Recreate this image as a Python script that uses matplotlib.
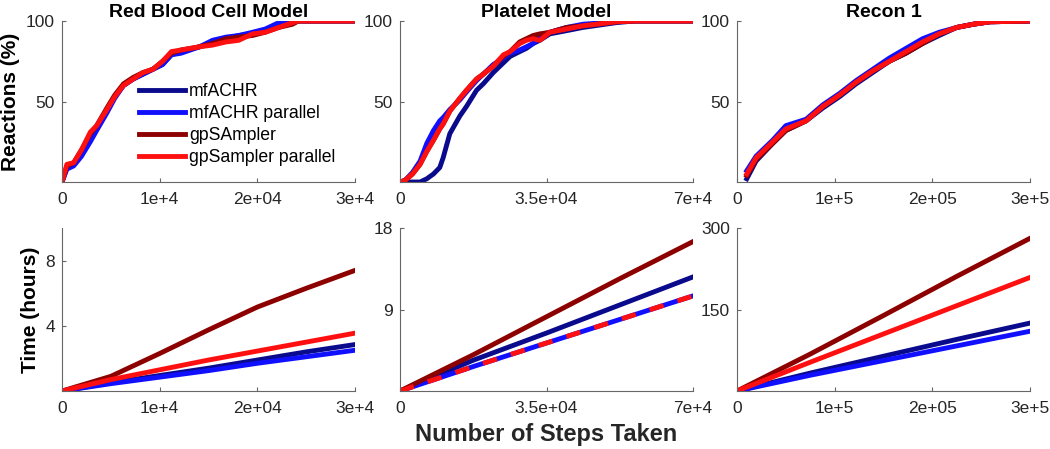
import numpy as np
import matplotlib.pyplot as plt

plt.rcParams['font.family'] = ['Liberation Sans', 'DejaVu Sans']

series_names = ['mfACHR', 'mfACHR parallel', 'gpSAmpler', 'gpSampler parallel']
series_colors = ['#0a0a8c', '#1010ff', '#8c0000', '#ff1010']
panel_titles = ['Red Blood Cell Model', 'Platelet Model', 'Recon 1']

# ---- convergence (% reactions) ----
rbc_steps = [0, 500, 1200, 2000, 2900, 3550, 4600, 5400, 6300, 7300, 8300, 9300,
             10300, 11200, 12200, 14100, 15400, 16800, 18100, 19500, 20800,
             22200, 23600, 24200, 30000]
rbc_conv = {
    'mfACHR':             [0, 9, 11, 17, 27, 33, 44, 53, 60, 64, 67, 70, 73, 79, 81, 84, 87, 89, 91, 92, 94, 98, 100, 100, 100],
    'mfACHR parallel':    [0, 8, 10, 16, 25, 32, 43, 52, 60, 64, 67, 70, 73, 79, 80, 84, 88, 90, 91, 93, 95, 99, 100, 100, 100],
    'gpSAmpler':          [0, 10, 12, 20, 30, 35, 46, 54, 61, 65, 68, 70, 75, 80, 82, 84, 86, 89, 90, 91, 93, 96, 98, 100, 100],
    'gpSampler parallel': [0, 11, 12, 20, 31, 35, 45, 53, 60, 64, 68, 70, 75, 81, 82, 84, 85, 87, 88, 92, 93, 96, 99, 100, 100],
}

plt_steps = [0, 1200, 3000, 4800, 6400, 8000, 9500, 10300, 11900, 14300, 15900,
             18300, 19900, 22300, 24700, 26300, 28600, 30200, 31800, 33400,
             35800, 39800, 43700, 51700, 56000, 70000]
plt_conv = {
    'mfACHR':             [0, 0, 0, 0, 2, 5, 9, 15, 30, 41, 47, 57, 61, 68, 74, 78, 81, 83, 86, 88, 92, 94, 96, 99, 100, 100],
    'mfACHR parallel':    [0, 1, 6, 13, 24, 32, 38, 40, 45, 51, 56, 63, 67, 73, 77, 80, 82, 84, 86, 90, 93, 96, 98, 99.5, 100, 100],
    'gpSAmpler':          [0, 1, 5, 11, 19, 26, 33, 36, 44, 52, 57, 64, 67, 72, 78, 81, 87, 89, 91, 92, 93, 96, 97, 99.5, 100, 100],
    'gpSampler parallel': [0, 1, 5, 11, 19, 26, 33, 36, 44, 52, 57, 64, 67, 72, 79, 81, 86, 88, 89, 88, 93, 95, 97, 99.5, 100, 100],
}

rec_steps = [10000, 19500, 36600, 50000, 70800, 88000, 105000, 122000, 139000,
             156000, 173000, 190000, 207000, 225000, 242000, 259000, 300000]
rec_conv = {
    'mfACHR':             [2, 13, 24, 32, 38, 46, 53, 61, 68, 75, 80, 86, 91, 96, 98, 99.5, 100],
    'mfACHR parallel':    [7, 16, 26, 35, 39, 48, 55, 63, 70, 77, 83, 89, 93, 96, 98, 99.5, 100],
    'gpSAmpler':          [4, 14, 24, 32, 38, 47, 54, 62, 69, 75, 80, 86, 92, 96, 98, 99.5, 100],
    'gpSampler parallel': [5, 15, 25, 33, 38, 47, 54, 62, 69, 75, 81, 87, 92, 96, 98, 99.5, 100],
}

# ---- run time (hours) ----
rbc_time_steps = [0, 5000, 10000, 15000, 20000, 25000, 30000]
rbc_time = {
    'mfACHR':             [0, 0.5, 0.95, 1.4, 1.9, 2.4, 2.85],
    'mfACHR parallel':    [0, 0.45, 0.85, 1.25, 1.7, 2.1, 2.5],
    'gpSAmpler':          [0, 0.9, 2.3, 3.75, 5.15, 6.3, 7.4],
    'gpSampler parallel': [0, 0.7, 1.3, 1.9, 2.45, 3.0, 3.55],
}

plt_time_steps = [0, 17500, 35000, 52500, 70000]
plt_time = {
    'mfACHR':             [0, 3.4, 6.4, 9.5, 12.6],
    'mfACHR parallel':    [0, 2.7, 5.3, 7.9, 10.5],
    'gpSAmpler':          [0, 4.0, 8.2, 12.4, 16.5],
    'gpSampler parallel': [0, 2.7, 5.3, 7.9, 10.5],
}

rec_time_steps = [0, 75000, 150000, 225000, 300000]
rec_time = {
    'mfACHR':             [0, 33, 64, 95, 125],
    'mfACHR parallel':    [0, 29, 56, 83, 110],
    'gpSAmpler':          [0, 68, 139, 211, 281],
    'gpSampler parallel': [0, 53, 105, 157, 209],
}

x_max = [30000, 70000, 300000]
x_ticks = [[0, 10000, 20000, 30000], [0, 35000, 70000], [0, 100000, 200000, 300000]]
x_tick_labels = [['0', '1e+4', '2e+04', '3e+4'], ['0', '3.5e+04', '7e+4'],
                 ['0', '1e+5', '2e+05', '3e+5']]
time_ymax = [10, 18, 300]
time_yticks = [[4, 8], [9, 18], [150, 300]]

conv_data = [(rbc_steps, rbc_conv), (plt_steps, plt_conv), (rec_steps, rec_conv)]
time_data = [(rbc_time_steps, rbc_time), (plt_time_steps, plt_time),
             (rec_time_steps, rec_time)]

fig = plt.figure(figsize=(10.5, 4.49), dpi=100)
lefts = [62 / 1050, 400 / 1050, 737 / 1050]
width = 293 / 1050
top_row = [1 - 182 / 449, 161 / 449]
bot_row = [1 - 391 / 449, 163 / 449]


def style_axes(ax):
    for side in ['top', 'right']:
        ax.spines[side].set_visible(False)
    for side in ['left', 'bottom']:
        ax.spines[side].set_color('#666666')
        ax.spines[side].set_linewidth(0.8)
    ax.tick_params(direction='in', length=3, width=0.8, color='#666666',
                   labelcolor='#262626', labelsize=12.5)
    ax.tick_params(axis='x', pad=7)
    ax.tick_params(axis='y', pad=5)


lw = 3.5
for col in range(3):
    ax = fig.add_axes([lefts[col], top_row[0], width, top_row[1]])
    steps, conv = conv_data[col]
    for name, color in zip(series_names, series_colors):
        ax.plot(steps, conv[name], color=color, lw=lw, label=name,
                solid_joinstyle='round')
    ax.set_xlim(0, x_max[col])
    ax.set_ylim(0, 100)
    ax.set_yticks([50, 100])
    ax.set_xticks(x_ticks[col])
    ax.set_xticklabels(x_tick_labels[col])
    ax.set_title(panel_titles[col], fontsize=14, fontweight='bold', pad=3)
    style_axes(ax)
    if col == 0:
        ax.set_ylabel('Reactions (%)', fontsize=15, fontweight='bold')
        ax.legend(loc='upper left', bbox_to_anchor=(0.22, 0.69), frameon=False,
                  fontsize=12.7, handlelength=2.6, handletextpad=0.25,
                  labelspacing=0.28, borderpad=0.2)

    ax = fig.add_axes([lefts[col], bot_row[0], width, bot_row[1]])
    steps, times = time_data[col]
    for name, color in zip(series_names, series_colors):
        if col == 1 and name == 'gpSampler parallel':
            ax.plot(steps, times[name], color=color, lw=lw, dashes=(3, 3))
        else:
            ax.plot(steps, times[name], color=color, lw=lw)
    ax.set_xlim(0, x_max[col])
    ax.set_ylim(0, time_ymax[col])
    ax.set_yticks(time_yticks[col])
    ax.set_xticks(x_ticks[col])
    ax.set_xticklabels(x_tick_labels[col])
    style_axes(ax)
    if col == 0:
        ax.set_ylabel('Time (hours)', fontsize=15, fontweight='bold')
    if col == 1:
        ax.set_xlabel('Number of Steps Taken', fontsize=17, fontweight='bold',
                      color='#262626', labelpad=5)

fig.savefig('out.png', dpi=100)
